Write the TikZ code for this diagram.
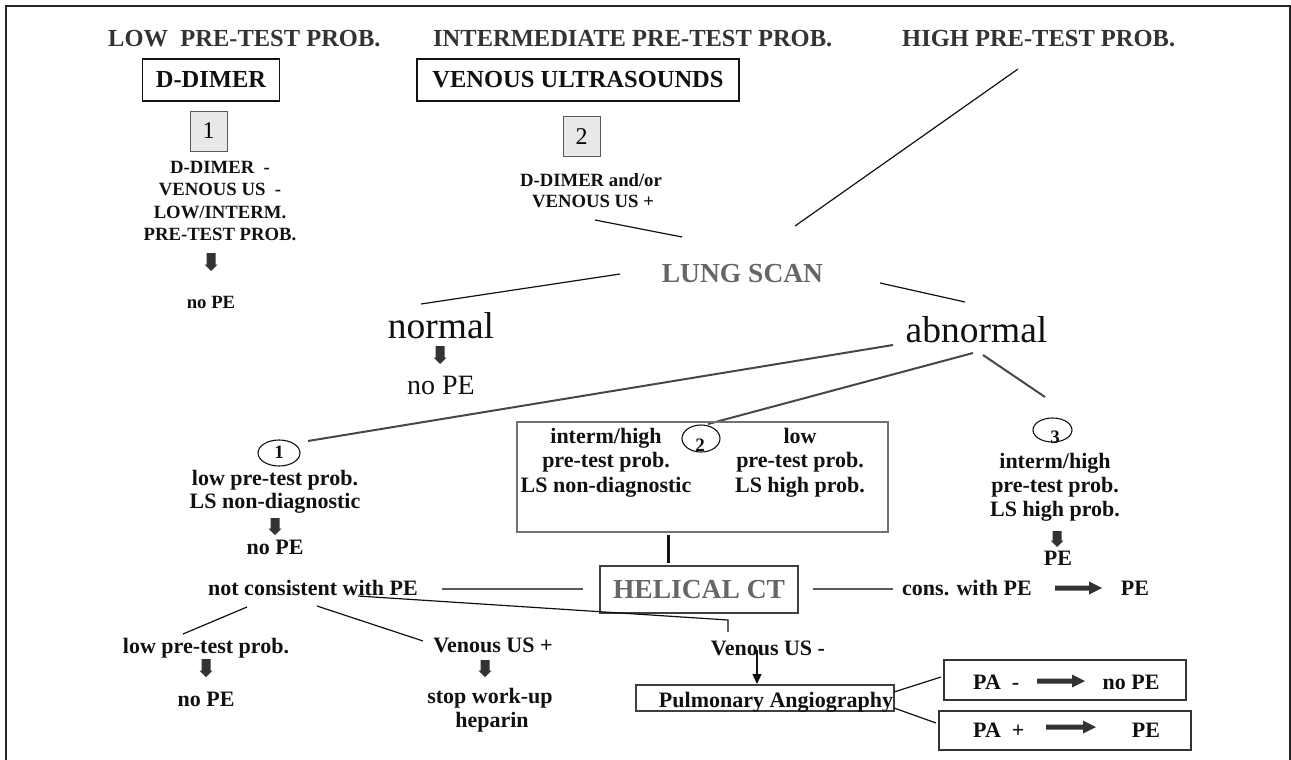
\documentclass[tikz,border=0pt]{standalone}
\usepackage{fontspec}
\setmainfont{Liberation Serif}
\usetikzlibrary{arrows.meta,shapes.geometric}
\definecolor{ttl}{HTML}{333333}
\definecolor{gry}{HTML}{666666}
\definecolor{ink}{HTML}{111111}
\definecolor{arr}{HTML}{333333}
\definecolor{numfill}{HTML}{E8E8E8}
\newcommand\dnarrow[3]{\fill[arr] ({#1-4.5},#2) -- ({#1+4.5},#2) -- ({#1+4.5},{#3-6.5}) -- ({#1+6.5},{#3-6.5}) -- (#1,#3) -- ({#1-6.5},{#3-6.5}) -- ({#1-4.5},{#3-6.5}) -- cycle;}
\newcommand\rtarrow[3]{\fill[arr] (#1,{#3-2.5}) -- ({#2-13},{#3-2.5}) -- ({#2-13},{#3-6.5}) -- (#2,#3) -- ({#2-13},{#3+6.5}) -- ({#2-13},{#3+2.5}) -- (#1,{#3+2.5}) -- cycle;}
\begin{document}
\begin{tikzpicture}[x=1pt,y=-1pt,
  title/.style={font=\fontsize{24.5}{28}\selectfont\bfseries, text=ttl, inner sep=0},
  sm/.style={font=\fontsize{18.7}{22}\selectfont\bfseries, text=ink, inner sep=0},
  md/.style={font=\fontsize{22}{24}\selectfont\bfseries, text=ink, inner sep=0},
  digit/.style={font=\fontsize{19}{21}\selectfont\bfseries, text=ink, inner sep=0},
  big/.style={font=\fontsize{37.5}{40}\selectfont, text=ink, inner sep=0},
  reg/.style={font=\fontsize{28}{30}\selectfont, text=ink, inner sep=0},
  gbig/.style={font=\fontsize{27.5}{30}\selectfont\bfseries, text=gry, inner sep=0},
  topbox/.style={draw=ink, line width=1.3, font=\fontsize{24.5}{28}\selectfont\bfseries, text=ink, text height=16pt, text depth=0pt, inner sep=0},
  numbox/.style={draw=black!65, line width=1, fill=numfill, minimum width=37, minimum height=40, font=\fontsize{24}{26}\selectfont, text height=16pt, text depth=0pt, inner sep=0},
  circ/.style={draw=ink, ellipse, line width=1.1, inner sep=0},
  midbox/.style={draw=black!55, line width=1.2, inner sep=0},
  ctbox/.style={draw=black!75, line width=1.5, font=\fontsize{27.5}{30}\selectfont\bfseries, text=gry, text height=18pt, text depth=0pt, inner sep=0},
  pabox/.style={draw=black!80, line width=1.3, inner sep=0},
  thinln/.style={draw=ink, line width=1.2},
  grayln/.style={draw=black!65, line width=1.2},
  branch/.style={draw=black!72, line width=2},
  frame/.style={draw=black!85, line width=1.5}]
\useasboundingbox (0,0) rectangle (1291,760);
\draw[frame] (6,760) -- (6,6) -- (1290,6) -- (1290,760);

% titles
\node[title, anchor=base west] (tlow) at (108,47) {LOW\hspace{0.5em}PRE-TEST PROB.};
\node[title, anchor=base west] (tint) at (433,47) {INTERMEDIATE PRE-TEST PROB.};
\node[title, anchor=base west] (thigh) at (902,47) {HIGH PRE-TEST PROB.};
\node[topbox, minimum width=137, minimum height=42] (dd) at (211,80) {D-DIMER};
\node[topbox, minimum width=322, minimum height=42] (vu) at (578,80) {VENOUS ULTRASOUNDS};
\node[numbox] (n1) at (208.5,131) {1};
\node[numbox] (n2) at (581.5,136) {2};

% column 1
\node[sm, anchor=base] (a1) at (220,173) {D-DIMER\ \ -};
\node[sm, anchor=base] (a2) at (220,195.5) {VENOUS US\ \ -};
\node[sm, anchor=base] (a3) at (220,218) {LOW/INTERM.};
\node[sm, anchor=base] (a4) at (220,240) {PRE-TEST PROB.};
\dnarrow{211}{253}{271}
\node[sm, anchor=base] (a5) at (211,308) {no PE};

% column 2
\node[sm, anchor=base] (b1) at (591,186) {D-DIMER and/or};
\node[sm, anchor=base] (b2) at (593,207) {VENOUS US +};
\coordinate (b2e) at (595,220);
\coordinate (lsw) at (682,237);
\draw[thinln] (b2e) -- (lsw);

% lung scan
\node[gbig, anchor=base] (ls) at (742.5,282) {LUNG SCAN};
\coordinate (hi1) at (1018,69);
\coordinate (hi2) at (795,226);
\draw[thinln] (hi1) -- (hi2);
\coordinate (lsl) at (620,274);
\coordinate (nort) at (421,304);
\draw[thinln] (lsl) -- (nort);
\coordinate (lsr) at (880,283);
\coordinate (abnt) at (965,302);
\draw[thinln] (lsr) -- (abnt);
\node[big, anchor=base] (nor) at (441,338) {normal};
\dnarrow{440}{346}{364}
\node[reg, anchor=base] (nope1) at (441,394) {no PE};
\node[big, anchor=base] (abn) at (976.5,342) {abnormal};

% branches
\coordinate (ab1) at (893,345);
\coordinate (c1t) at (308,441);
\coordinate (ab2) at (973,353);
\coordinate (c2t) at (708,424);
\coordinate (ab3) at (983,355);
\coordinate (c3t) at (1045,397);
\draw[branch] (ab1) -- (c1t);
\draw[branch] (ab2) -- (c2t);
\draw[branch] (ab3) -- (c3t);

% branch 1
\node[circ, minimum width=42, minimum height=26] (c1) at (279,453) {};
\node[digit, anchor=base] (d1) at (279,458) {1};
\node[md, anchor=base] (l1) at (275,485) {low pre-test prob.};
\node[md, anchor=base] (l2) at (275,508) {LS non-diagnostic};
\dnarrow{275}{518}{535}
\node[md, anchor=base] (l3) at (275,554) {no PE};

% branch 2
\node[midbox, minimum width=371, minimum height=110] (bx) at (702.5,477) {};
\node[circ, minimum width=38, minimum height=27] (c2) at (701,438.5) {};
\node[digit, anchor=base] (d2) at (700,451) {2};
\node[md, anchor=base] (m1) at (606,443) {interm/high};
\node[md, anchor=base] (m2) at (606,467) {pre-test prob.};
\node[md, anchor=base] (m3) at (606,492) {LS non-diagnostic};
\node[md, anchor=base] (r1) at (800,443) {low};
\node[md, anchor=base] (r2) at (800,467) {pre-test prob.};
\node[md, anchor=base] (r3) at (800,492) {LS high prob.};

% branch 3
\node[circ, minimum width=39, minimum height=24] (c3) at (1052.5,430) {};
\node[digit, anchor=base] (d3) at (1055,443) {3};
\node[md, anchor=base] (t1) at (1055,468) {interm/high};
\node[md, anchor=base] (t2) at (1055,492) {pre-test prob.};
\node[md, anchor=base] (t3) at (1055,516) {LS high prob.};
\dnarrow{1057}{531}{547}
\node[md, anchor=base] (t4) at (1058,565) {PE};

% helical CT
\coordinate (bxb) at (668,535);
\coordinate (ctt) at (668,563);
\draw[draw=ink, line width=3] (bxb) -- (ctt);
\node[ctbox, minimum width=198, minimum height=47] (ct) at (699,589.5) {HELICAL CT};
\node[md, anchor=base] (ncw) at (313,595) {not consistent with PE};
\coordinate (ctl1) at (442,589);
\coordinate (ctl2) at (583,589);
\draw[grayln] (ctl1) -- (ctl2);
\coordinate (ctr1) at (813,589);
\coordinate (ctr2) at (893,589);
\draw[grayln] (ctr1) -- (ctr2);
\node[md, anchor=base] (cwp) at (967,595) {cons. with PE};
\rtarrow{1055}{1102}{588}
\node[md, anchor=base] (pe2) at (1135,595) {PE};

% from not consistent
\coordinate (nc1) at (358,596);
\coordinate (nc2) at (728,620);
\coordinate (nc3) at (728,632);
\draw[thinln] (nc1) -- (nc2) -- (nc3);
\coordinate (ncl1) at (247,607);
\coordinate (ncl2) at (183,634);
\draw[thinln] (ncl1) -- (ncl2);
\coordinate (ncr1) at (317,606);
\coordinate (ncr2) at (423,641);
\draw[thinln] (ncr1) -- (ncr2);

\node[md, anchor=base] (lp) at (206,653) {low pre-test prob.};
\dnarrow{206}{659}{677}
\node[md, anchor=base] (np3) at (206,706) {no PE};
\node[md, anchor=base] (vp) at (493,652) {Venous US +};
\dnarrow{485}{660}{677}
\node[md, anchor=base] (sw) at (490,703) {stop work-up};
\node[md, anchor=base] (hp) at (492,727) {heparin};

% venous US -
\node[md, anchor=base] (vm) at (768,655) {Venous US -};
\node[pabox, draw=black!75, minimum width=258, minimum height=26] (pa) at (765,698) {};
\node[md, anchor=base] (pat) at (776,707) {Pulmonary Angiography};
\coordinate (va1) at (757,650);
\coordinate (va2) at (757,684);
\draw[thinln, -{Triangle[length=10pt,width=9pt]}] (va1) -- (va2);

\node[pabox, minimum width=242, minimum height=40] (pam) at (1065,680) {};
\node[pabox, minimum width=252, minimum height=39] (pap) at (1065,730.5) {};
\node[md, anchor=base west] (pam1) at (973,689) {PA\ \ -};
\rtarrow{1037}{1085}{681}
\node[md, anchor=base] (pam2) at (1131,689) {no PE};
\node[md, anchor=base west] (pap1) at (973,737) {PA\ \ +};
\rtarrow{1046}{1096}{727}
\node[md, anchor=base] (pap2) at (1146,737) {PE};
\coordinate (pa1) at (894,692);
\coordinate (pa2) at (941,677);
\coordinate (pa3) at (894,708);
\coordinate (pa4) at (936,723);
\draw[thinln] (pa1) -- (pa2);
\draw[thinln] (pa3) -- (pa4);
\end{tikzpicture}
\end{document}
